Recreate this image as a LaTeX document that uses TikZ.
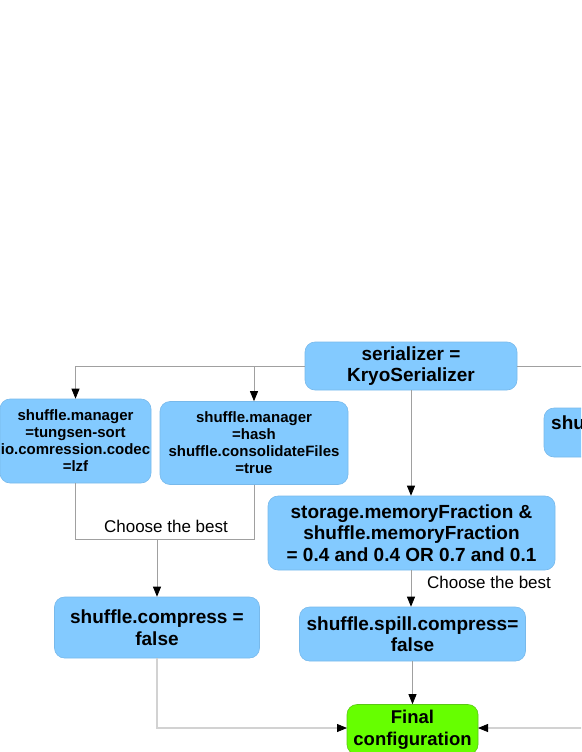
\documentclass[tikz,border=0pt]{standalone}
\usepackage{fontspec}
\setmainfont{Liberation Sans}
\usetikzlibrary{arrows.meta}
\definecolor{boxblue}{RGB}{131,202,255}
\definecolor{boxedge}{RGB}{120,185,235}
\definecolor{fingreen}{RGB}{102,255,0}
\definecolor{finedge}{RGB}{90,200,20}
\definecolor{linegray}{RGB}{160,160,160}
\definecolor{lightline}{RGB}{210,210,210}
\tikzset{
  box/.style={rectangle, rounded corners=10pt, fill=boxblue, draw=boxedge, line width=0.6pt,
    align=center, inner sep=0pt, font=\bfseries\fontsize{19}{21.5}\selectfont},
  smallbox/.style={box, font=\bfseries\fontsize{15}{17}\selectfont},
  finbox/.style={box, fill=fingreen, draw=finedge, font=\bfseries\fontsize{18.5}{22}\selectfont},
  conn/.style={draw=linegray, line width=0.8pt},
  lconn/.style={draw=lightline, line width=1.6pt},
  tip/.style={-{Triangle[length=10pt,width=8pt,fill=black,color=black]}},
  lbl/.style={font=\fontsize{17}{19}\selectfont, inner sep=0pt}
}
\begin{document}
\begin{tikzpicture}[x=1pt,y=-1pt]
\useasboundingbox (0,0) rectangle (581,752);
\clip (0,0) rectangle (581,752);
% nodes
\node[box, minimum width=212pt, minimum height=48pt] (ser) at (411,366) {serializer =\\KryoSerializer};
\node[smallbox, minimum width=151pt, minimum height=84pt] (n1) at (75.5,441) {shuffle.manager\\=tungsen-sort\\io.comression.codec\\=lzf};
\node[smallbox, minimum width=188pt, minimum height=83pt] (n2) at (254,443) {shuffle.manager\\=hash\\shuffle.consolidateFiles\\=true};
\node[box, minimum width=156pt, minimum height=49pt] (n3) at (622,432.5) {};
\node[anchor=west, inner sep=0pt, font=\bfseries\fontsize{19}{21.5}\selectfont] (n3t) at (551,423) {shu};
\node[box, minimum width=287pt, minimum height=74pt] (sto) at (411.5,533) {storage.memoryFraction \&\\shuffle.memoryFraction\\= 0.4 and 0.4 OR 0.7 and 0.1};
\node[box, minimum width=205pt, minimum height=61pt] (cmp) at (157,627.5) {shuffle.compress =\\false};
\node[box, minimum width=226pt, minimum height=54pt] (spl) at (412.5,634) {shuffle.spill.compress=\\false};
\node[finbox, minimum width=131pt, minimum height=50pt] (fin) at (412.5,729.5) {Final\\configuration};
% coordinates
\coordinate (j) at (157,539);
\coordinate (rt) at (600,366);
\coordinate (rb) at (600,728);
\coordinate (fl) at (347,728);
\coordinate (fr) at (478,728);
% connectors
\draw[conn] (ser.west) -| (n1.north |- ser.west);
\draw[conn, tip] (n1.north |- ser.west) -- (n1.north);
\draw[conn, tip] (n2.north |- ser.west) -- (n2.north);
\draw[conn] (ser.east) -- (rt);
\draw[conn, tip] (ser.south) -- (sto.north -| ser.south);
\draw[conn] (n1.south) |- (j);
\draw[conn] (n2.south) |- (j);
\draw[conn, tip] (j) -- (cmp.north -| j);
\node[lbl] (c1) at (166,526) {Choose the best};
\draw[conn, tip] (sto.south -| ser.south) -- (spl.north -| ser.south);
\node[lbl] (c2) at (489,582) {Choose the best};
\draw[conn, tip] (spl.south) -- (fin.north);
\draw[lconn] (cmp.south) |- ([xshift=-8pt]fl);
\draw[conn, tip, draw=lightline] ([xshift=-14pt]fl) -- (fl);
\draw[lconn] (rb) -- ([xshift=8pt]fr);
\draw[conn, tip, draw=lightline] ([xshift=14pt]fr) -- (fr);
\end{tikzpicture}
\end{document}
